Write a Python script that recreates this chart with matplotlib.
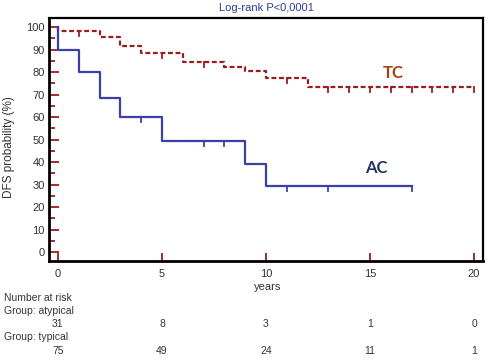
import numpy as np
import matplotlib
matplotlib.use("Agg")
import matplotlib.pyplot as plt
from matplotlib.transforms import blended_transform_factory

# ---- data ----
ac_event_t = [0, 1, 2, 3, 5, 9, 10]
ac_surv = [90, 80, 68.7, 60, 49.3, 39.2, 29.6]
ac_end = 17
ac_cens_t = [4, 7, 8, 11, 13, 17]

tc_event_t = [0, 2, 3, 4, 6, 8, 9, 10, 12]
tc_surv = [98.5, 95.6, 91.8, 88.4, 84.7, 82.5, 80.7, 77.3, 73.3]
tc_end = 20
tc_cens_t = [1, 5, 7, 11, 13, 14, 15, 16, 17, 18, 19, 20]

risk_times = [0, 5, 10, 15, 20]
risk_atypical = [31, 8, 3, 1, 0]
risk_typical = [75, 49, 24, 11, 1]

x_ticks = [0, 5, 10, 15, 20]
y_ticks = list(range(0, 101, 10))

RED = "#9a1c1c"
BLUE = "#3b3fa8"
TXT = "#333333"

plt.rcParams['font.family'] = ['Liberation Sans', 'DejaVu Sans']

W, H = 490, 362
fig = plt.figure(figsize=(W / 100, H / 100), dpi=100)
ax = fig.add_axes([49 / W, 1 - 261 / H, (483 - 49) / W, (261 - 18) / H])


def step_xy(t_events, s_vals, t_end):
    xs = [0]
    ys = [100]
    cur = 100
    for t, s in zip(t_events, s_vals):
        xs += [t, t]
        ys += [cur, s]
        cur = s
    xs.append(t_end)
    ys.append(cur)
    return np.array(xs), np.array(ys)


def surv_at(t, t_events, s_vals):
    cur = 100
    for te, s in zip(t_events, s_vals):
        if te <= t:
            cur = s
    return cur


# TC curve
x, y = step_xy(tc_event_t, tc_surv, tc_end)
ax.plot(x, y, color=RED, lw=1.6, ls=(0, (2.2, 1.2)), solid_capstyle='butt')
for t in tc_cens_t:
    s = surv_at(t, tc_event_t, tc_surv)
    ax.plot([t, t], [s, s - 2.2], color=RED, lw=1.3)

# AC curve
x, y = step_xy(ac_event_t, ac_surv, ac_end)
ax.plot(x, y, color=BLUE, lw=1.6)
for t in ac_cens_t:
    s = surv_at(t, ac_event_t, ac_surv)
    ax.plot([t, t], [s, s - 2.2], color=BLUE, lw=1.3)

ax.set_xlim(-0.43, 20.43)
ax.set_ylim(-3.9, 104.1)
ax.set_xticks(x_ticks)
ax.set_yticks(y_ticks)
ax.set_yticks(list(range(5, 100, 10)), minor=True)
ax.tick_params(axis='both', which='major', direction='in', color=RED,
               width=1.3, labelsize=8, labelcolor=TXT)
ax.tick_params(axis='y', which='major', length=7, pad=3)
ax.tick_params(axis='y', which='minor', direction='in', color=RED,
               width=1.3, length=4)
ax.tick_params(axis='x', which='major', length=6, pad=6)
for sp in ax.spines.values():
    sp.set_linewidth(1.6)
    sp.set_color('black')
ax.spines['bottom'].set_linewidth(2.0)
ax.spines['left'].set_linewidth(2.0)

fig.text(9.5 / W, 1 - 147 / H, "DFS probability (%)", rotation=90,
         ha='center', va='center', fontsize=8.5, color=TXT)

fig.text(266 / W, 1 - 8 / H, "Log-rank P<0,0001", ha='center', va='center',
         fontsize=8, color="#2e3a9a")
fig.text(268 / W, 1 - 287 / H, "years", ha='center', va='center',
         fontsize=8, color=TXT)

fig.text(393 / W, 1 - 73 / H, "TC", ha='center', va='center', fontsize=12,
         fontweight='bold', color="#a3420f", family=['Lato', 'DejaVu Sans'])
fig.text(376 / W, 1 - 168 / H, "AC", ha='center', va='center', fontsize=12,
         fontweight='bold', color="#1f3560", family=['Lato', 'DejaVu Sans'])

# Number at risk table
fig.text(4 / W, 1 - 298 / H, "Number at risk", ha='left', va='center',
         fontsize=7.5, color=TXT)
fig.text(4 / W, 1 - 311 / H, "Group: atypical", ha='left', va='center',
         fontsize=7.5, color=TXT)
fig.text(4 / W, 1 - 337 / H, "Group: typical", ha='left', va='center',
         fontsize=7.5, color=TXT)
tr = blended_transform_factory(ax.transData, fig.transFigure)
for t, n in zip(risk_times, risk_atypical):
    ax.text(t, 1 - 324 / H, str(n), transform=tr, ha='center', va='center',
            fontsize=7.5, color=TXT, clip_on=False)
for t, n in zip(risk_times, risk_typical):
    ax.text(t, 1 - 351 / H, str(n), transform=tr, ha='center', va='center',
            fontsize=7.5, color=TXT, clip_on=False)

fig.savefig("out.png", dpi=100)
